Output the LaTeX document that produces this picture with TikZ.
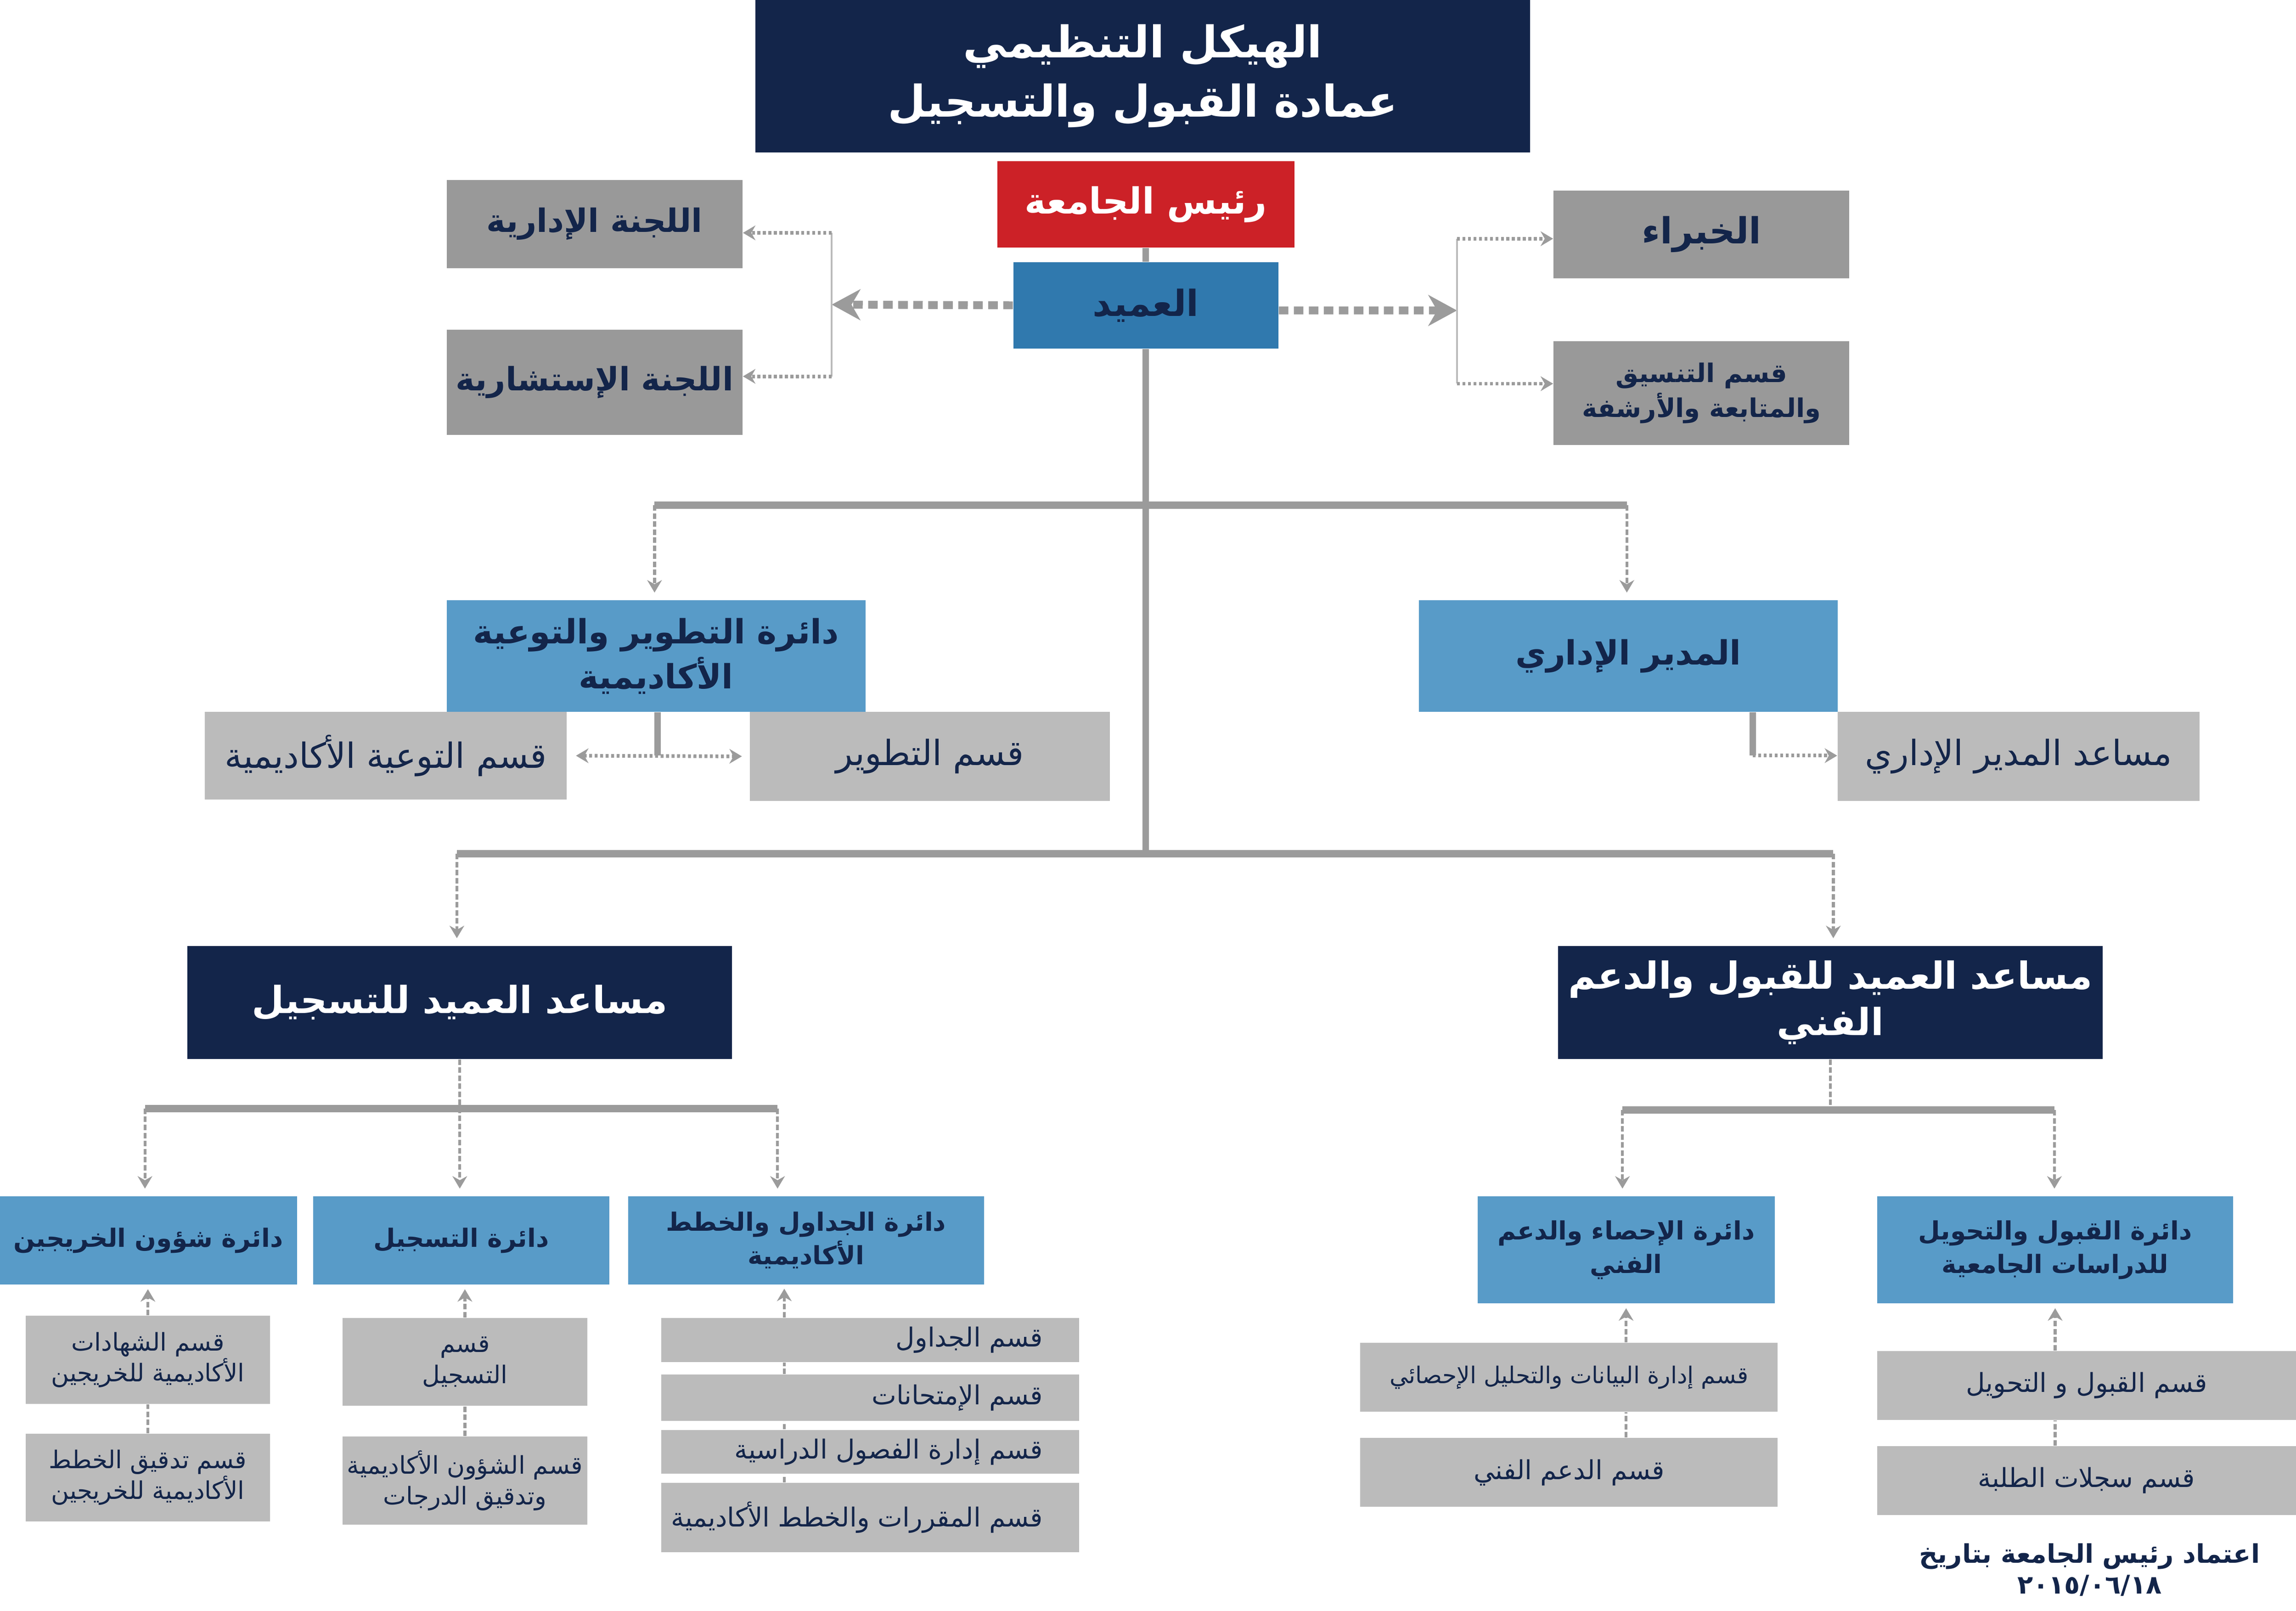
\documentclass[tikz,border=0pt]{standalone}
\usepackage{fontspec}
\usetikzlibrary{arrows.meta,positioning}
\newfontfamily\arabicfont[Script=Arabic]{DejaVu Sans}
\TeXXeTstate=1
\newcommand{\rl}[1]{\beginR #1\endR}
\newcommand{\rcell}[1]{\makebox[4.71cm][r]{\beginR #1\endR}}
\definecolor{chartnavy}{RGB}{19,37,74}
\definecolor{chartred}{RGB}{204,33,39}
\definecolor{deanblue}{RGB}{48,121,174}
\definecolor{deptblue}{RGB}{88,155,200}
\definecolor{darkgrey}{RGB}{153,153,153}
\definecolor{lightgrey}{RGB}{187,187,187}
\definecolor{linegrey}{RGB}{155,155,155}

\begin{document}
\begin{tikzpicture}[x=0.02cm, y=-0.02cm,
    sz/.style 2 args={minimum width=#1*0.02cm, minimum height=#2*0.02cm},
    orgbox/.style={inner sep=0pt, align=center, text=chartnavy},
    titletext/.style={font=\arabicfont\bfseries\fontsize{17}{23}\selectfont},
    bigtext/.style={font=\arabicfont\bfseries\fontsize{14}{18}\selectfont},
    navytext/.style={font=\arabicfont\bfseries\fontsize{14.5}{18}\selectfont},
    depttext/.style={font=\arabicfont\bfseries\fontsize{13}{17.5}\selectfont},
    committeetext/.style={font=\arabicfont\bfseries\fontsize{12.5}{16}\selectfont},
    medtext/.style={font=\arabicfont\bfseries\fontsize{9.8}{13}\selectfont},
    regtext/.style={font=\arabicfont\fontsize{13.5}{16}\selectfont},
    smalltext/.style={font=\arabicfont\fontsize{9.5}{12}\selectfont},
    celltext/.style={font=\arabicfont\fontsize{10.2}{12}\selectfont},
    trunk/.style={draw=linegrey, line width=0.09cm},
    bar/.style={draw=linegrey, line width=0.1cm},
    dashline/.style={draw=linegrey, line width=0.04cm, dash pattern=on 0.075cm off 0.035cm},
    >={Stealth[length=0.17cm, width=0.2cm]},
    thickdot/.style={draw=linegrey, line width=0.108cm, dash pattern=on 0.13cm off 0.075cm,
      -{Stealth[length=0.39cm, width=0.42cm, inset=0.12cm]}},
    thindot/.style={draw=linegrey, line width=0.05cm, dash pattern=on 0.04cm off 0.035cm},
    bracketline/.style={draw=lightgrey, line width=0.025cm}]
    \useasboundingbox (0,0) rectangle (1568,1100);

    \node[orgbox, titletext, sz={529}{104}, fill=chartnavy, text=white] (1) at (780.5,52) {\rl{الهيكل التنظيمي}\\\rl{عمادة القبول والتسجيل}};
    \node[orgbox, bigtext, sz={203}{59}, fill=chartred, text=white] (2) at (782.5,139.5) {\rl{رئيس الجامعة}};
    \node[orgbox, bigtext, sz={181}{59}, fill=deanblue] (3) at (782.5,208.5) {\rl{العميد}};
    \node[orgbox, committeetext, sz={202}{60}, fill=darkgrey] (4) at (406,153) {\rl{اللجنة الإدارية}};
    \node[orgbox, committeetext, sz={202}{72}, fill=darkgrey] (5) at (406,261) {\rl{اللجنة الإستشارية}};
    \node[orgbox, bigtext, sz={202}{60}, fill=darkgrey] (6) at (1162,160) {\rl{الخبراء}};
    \node[orgbox, sz={202}{71}, fill=darkgrey, font=\arabicfont\bfseries\fontsize{10}{13.5}\selectfont] (7) at (1162,268.5) {\rl{قسم التنسيق}\\\rl{والمتابعة والأرشفة}};

    \node[orgbox, depttext, sz={286}{76}, fill=deptblue] (8) at (448,448) {\rl{دائرة التطوير والتوعية}\\\rl{الأكاديمية}};
    \node[orgbox, depttext, sz={286}{76}, fill=deptblue] (9) at (1112,448) {\rl{المدير الإداري}};
    \node[orgbox, regtext, sz={247}{60}, fill=lightgrey] (10) at (263.5,516) {\rl{قسم التوعية الأكاديمية}};
    \node[orgbox, regtext, sz={246}{61}, fill=lightgrey] (11) at (635,516.5) {\rl{قسم التطوير}};
    \node[orgbox, regtext, sz={247}{61}, fill=lightgrey] (12) at (1378.5,516.5) {\rl{مساعد المدير الإداري}};

    \node[orgbox, navytext, sz={372}{77}, fill=chartnavy, text=white] (13) at (314,684.5) {\rl{مساعد العميد للتسجيل}};
    \node[orgbox, navytext, sz={372}{77}, fill=chartnavy, text=white] (14) at (1250,684.5) {\rl{مساعد العميد للقبول والدعم}\\\rl{الفني}};

    \node[orgbox, medtext, sz={203}{60}, fill=deptblue] (15) at (101.3,847) {\rl{دائرة شؤون الخريجين}};
    \node[orgbox, medtext, sz={202}{60}, fill=deptblue] (16) at (315,847) {\rl{دائرة التسجيل}};
    \node[orgbox, medtext, sz={243}{60}, fill=deptblue] (17) at (550.5,847) {\rl{دائرة الجداول والخطط}\\\rl{الأكاديمية}};
    \node[orgbox, medtext, sz={203}{73}, fill=deptblue] (18) at (1110.5,853.5) {\rl{دائرة الإحصاء والدعم}\\\rl{الفني}};
    \node[orgbox, medtext, sz={243}{73}, fill=deptblue] (19) at (1403.5,853.5) {\rl{دائرة القبول والتحويل}\\\rl{للدراسات الجامعية}};

    \node[orgbox, smalltext, sz={167}{60}, fill=lightgrey] (20) at (101,928.6) {\rl{قسم الشهادات}\\\rl{الأكاديمية للخريجين}};
    \node[orgbox, smalltext, sz={167}{60}, fill=lightgrey] (21) at (101,1009) {\rl{قسم تدقيق الخطط}\\\rl{الأكاديمية للخريجين}};
    \node[orgbox, smalltext, sz={167}{60}, fill=lightgrey] (22) at (317.5,930) {\rl{قسم}\\\rl{التسجيل}};
    \node[orgbox, smalltext, sz={167}{60}, fill=lightgrey] (23) at (317.5,1011) {\rl{قسم الشؤون الأكاديمية}\\\rl{وتدقيق الدرجات}};
    \node[orgbox, celltext, sz={285.4}{30}, fill=lightgrey] (24) at (594.3,915) {\rcell{قسم الجداول}};
    \node[orgbox, celltext, sz={285.4}{31.5}, fill=lightgrey] (25) [below=0.16cm of 24] {\rcell{قسم الإمتحانات}};
    \node[orgbox, celltext, sz={285.4}{30}, fill=lightgrey] (26) [below=0.11cm of 25] {\rcell{قسم إدارة الفصول الدراسية}};
    \node[orgbox, celltext, sz={285.4}{47.4}, fill=lightgrey] (27) [below=0.11cm of 26] {\rcell{قسم المقررات والخطط الأكاديمية}};
    \node[orgbox, sz={285}{47}, fill=lightgrey, font=\arabicfont\fontsize{9}{12}\selectfont] (28) at (1071.5,940.5) {\rl{قسم إدارة البيانات والتحليل الإحصائي}};
    \node[orgbox, celltext, sz={285}{47}, fill=lightgrey] (29) at (1071.5,1005.5) {\rl{قسم الدعم الفني}};
    \node[orgbox, celltext, sz={286}{47}, fill=lightgrey] (30) at (1425,946) {\rl{قسم القبول و التحويل}};
    \node[orgbox, celltext, sz={286}{47}, fill=lightgrey] (31) at (1425,1011) {\rl{قسم سجلات الطلبة}};
    \node[orgbox, font=\arabicfont\bfseries\fontsize{10}{12}\selectfont] (32) at (1427,1072) {\rl{اعتماد رئيس الجامعة بتاريخ}\\٢٠١٥/٠٦/١٨};

    \coordinate (a1) at (447,345);
    \coordinate (a2) at (1111,345);
    \coordinate (b1) at (312,583);
    \coordinate (b2) at (1252,583);
    \coordinate (c1) at (99,757);
    \coordinate (c2) at (531,757);
    \coordinate (d1) at (1108,758);
    \coordinate (d2) at (1403,758);
    \coordinate (l) at (568,208);
    \coordinate (l1) at (568,159);
    \coordinate (l2) at (568,257);
    \coordinate (r) at (995,212);
    \coordinate (r1) at (995,163);
    \coordinate (r2) at (995,262);
    \coordinate (f) at (449,516);
    \coordinate (g) at (1197,516);
    \coordinate (e) at (535.6,877);

    \draw[trunk] (2.south) -- (3.north);
    \draw[trunk] (3.south) -- (3.south |- b1);
    \draw[bar] (a1) -- (a2);
    \draw[bar] (b1) -- (b2);
    \draw[bar] (c1) -- (c2);
    \draw[bar] (d1) -- (d2);

    \draw[thickdot] (3.west) -- (l);
    \draw[thickdot] ([yshift=-0.07cm]3.east) -- (r);
    \draw[bracketline] (l1) -- (l2);
    \draw[bracketline] (r1) -- (r2);
    \draw[thindot, ->] (l1) -- (l1 -| 4.east);
    \draw[thindot, ->] (l2) -- (l2 -| 5.east);
    \draw[thindot, ->] (r1) -- (r1 -| 6.west);
    \draw[thindot, ->] (r2) -- (r2 -| 7.west);

    \draw[dashline, ->, shorten >=0.1cm] (a1) -- (a1 |- 8.north);
    \draw[dashline, ->, shorten >=0.1cm] (a2) -- (a2 |- 9.north);
    \draw[trunk] (8.south -| f) -- (f);
    \draw[thindot, <->, shorten <=0.12cm, shorten >=0.1cm] (10.east) -- (11.west);
    \draw[trunk] (9.south -| g) -- (g);
    \draw[thindot, ->] (g) -- (g -| 12.west);

    \draw[dashline, ->, shorten >=0.1cm] (b1) -- (b1 |- 13.north);
    \draw[dashline, ->, shorten >=0.1cm] (b2) -- (b2 |- 14.north);
    \draw[dashline, ->, shorten >=0.1cm] (13.south) -- (13.south |- 16.north);
    \draw[dashline, ->, shorten >=0.1cm] (c1) -- (c1 |- 15.north);
    \draw[dashline, ->, shorten >=0.1cm] (c2) -- (c2 |- 17.north);
    \draw[dashline] (14.south) -- (14.south |- d1);
    \draw[dashline, ->, shorten >=0.1cm] (d1) -- (d1 |- 18.north);
    \draw[dashline, ->, shorten >=0.1cm] (d2) -- (d2 |- 19.north);

    \draw[dashline, ->, shorten >=0.06cm] (20.north) -- (20.north |- 15.south);
    \draw[dashline] (21.north) -- (20.south);
    \draw[dashline, ->, shorten >=0.06cm] (22.north) -- (22.north |- 16.south);
    \draw[dashline] (23.north) -- (22.south);
    \draw[dashline, ->, shorten >=0.06cm] (e |- 24.north) -- (e);
    \draw[dashline] (e |- 25.north) -- (e |- 24.south);
    \draw[dashline] (e |- 26.north) -- (e |- 25.south);
    \draw[dashline] (e |- 27.north) -- (e |- 26.south);
    \draw[dashline, ->, shorten >=0.06cm] (18.south |- 28.north) -- (18.south);
    \draw[dashline] (18.south |- 29.north) -- (18.south |- 28.south);
    \draw[dashline, ->, shorten >=0.06cm] (19.south |- 30.north) -- (19.south);
    \draw[dashline] (19.south |- 31.north) -- (19.south |- 30.south);
\end{tikzpicture}
\end{document}
